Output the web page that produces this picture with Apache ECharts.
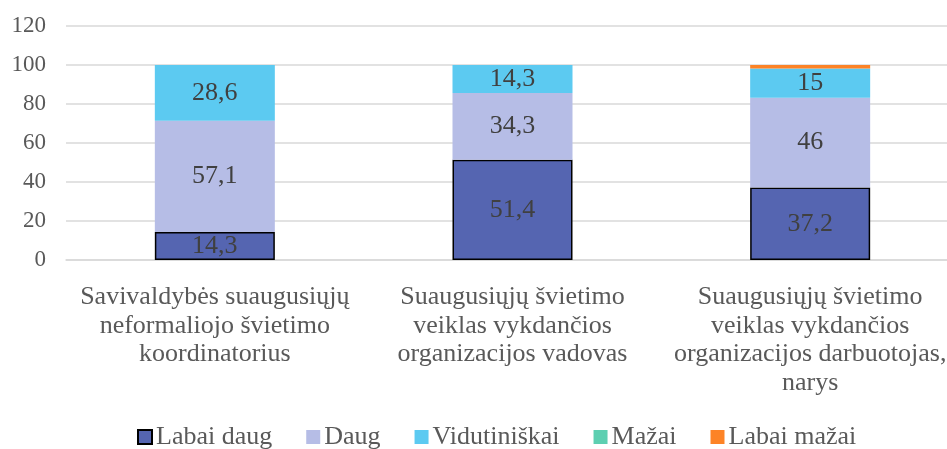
<!DOCTYPE html>
<html>
<head>
<meta charset="utf-8">
<script src="https://cdn.jsdelivr.net/npm/echarts@6/dist/echarts.min.js"></script>
<style>
  html, body { margin: 0; padding: 0; background: #fff; overflow: hidden; }
  #chart { width: 959px; height: 449px; }
</style>
</head>
<body>
<div id="chart"></div>
<script>
const categories = [
  'Savivaldybės suaugusiųjų\nneformaliojo švietimo\nkoordinatorius',
  'Suaugusiųjų švietimo\nveiklas vykdančios\norganizacijos vadovas',
  'Suaugusiųjų švietimo\nveiklas vykdančios\norganizacijos darbuotojas,\nnarys'
];
const labaiDaug = [14.3, 51.4, 37.2];
const daug = [57.1, 34.3, 46];
const vidutiniskai = [28.6, 14.3, 15];
const mazai = [0, 0, 0];
const labaiMazai = [0, 0, 1.8];
const yTicks = [0, 20, 40, 60, 80, 100, 120];

const font = 'Liberation Serif, Times New Roman, serif';
const chart = echarts.init(document.getElementById('chart'));

const fmt = p => p.value ? String(p.value).replace('.', ',') : '';
const label = { show: true, position: 'inside', color: '#404040', fontFamily: font, fontSize: 26, formatter: fmt };

const option = {
  animation: false,
  grid: { left: 66, right: 0, top: 26, bottom: 189 },
  legend: {
    top: 424,
    left: 137,
    padding: 0,
    itemWidth: 14,
    itemHeight: 14,
    itemGap: 34,
    icon: 'rect',
    textStyle: { fontFamily: font, fontSize: 26, color: '#595959', padding: [0, 0, 0, -1] },
    data: [
      { name: 'Labai daug', itemStyle: { borderColor: '#000', borderWidth: 2 } },
      'Daug', 'Vidutiniškai', 'Mažai', 'Labai mažai'
    ]
  },
  xAxis: {
    type: 'category',
    data: categories,
    axisLine: { lineStyle: { color: '#d9d9d9', width: 1.5 } },
    axisTick: { show: false },
    axisLabel: { fontFamily: font, fontSize: 26, color: '#595959', lineHeight: 28.5, margin: 23, interval: 0 }
  },
  yAxis: {
    type: 'value',
    min: yTicks[0],
    max: yTicks[yTicks.length - 1],
    interval: 20,
    axisLine: { show: false },
    axisTick: { show: false },
    splitLine: { lineStyle: { color: '#d9d9d9', width: 1.5 } },
    axisLabel: { fontFamily: font, fontSize: 23, color: '#595959', margin: 20 }
  },
  series: [
    { name: 'Labai daug', type: 'bar', stack: 'a', barWidth: 120, data: labaiDaug, label,
      itemStyle: { color: '#5565b1', borderColor: '#000', borderWidth: 1.5 } },
    { name: 'Daug', type: 'bar', stack: 'a', data: daug, label, itemStyle: { color: '#b6bde6' } },
    { name: 'Vidutiniškai', type: 'bar', stack: 'a', data: vidutiniskai, label, itemStyle: { color: '#5ccaf1' } },
    { name: 'Mažai', type: 'bar', stack: 'a', data: mazai, itemStyle: { color: '#5dcfb1' } },
    { name: 'Labai mažai', type: 'bar', stack: 'a', data: labaiMazai, itemStyle: { color: '#fd8326' } }
  ]
};
chart.setOption(option);
</script>
</body>
</html>
